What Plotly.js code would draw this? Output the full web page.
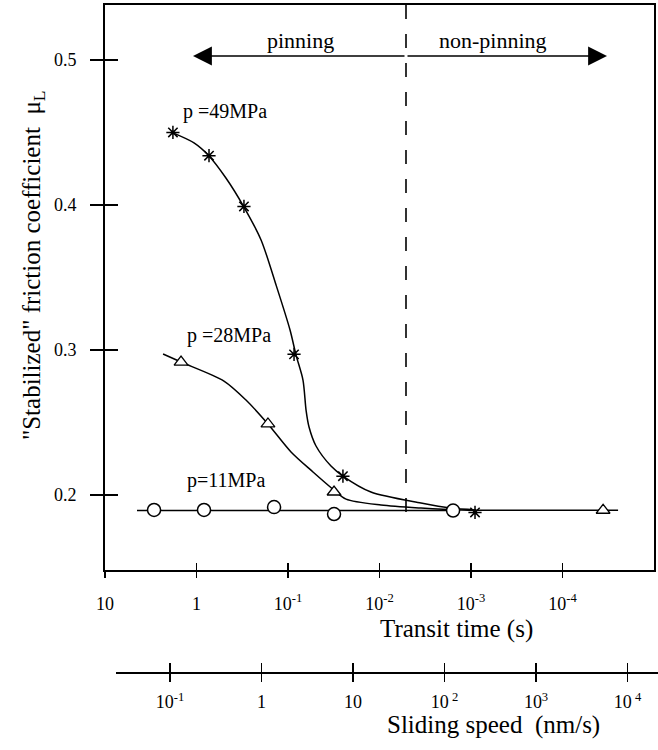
<!DOCTYPE html>
<html><head><meta charset="utf-8">
<script src="https://cdn.plot.ly/plotly-3.0.1.min.js"></script>
<style>html,body{margin:0;padding:0;background:#fff}</style>
</head><body><div id="chart" style="width:658px;height:750px"></div>
<script>
// ---- data ----
// p = 49 MPa : measured points (asterisks)
const t49 = [1.81, 0.73, 0.303, 0.0859, 0.0251, 0.000904];
const mu49 = [0.450, 0.434, 0.399, 0.297, 0.213, 0.188];
// p = 49 MPa : drawn guide curve
const t49Curve = [1.81, 1.065, 0.73, 0.477, 0.303, 0.197, 0.135, 0.095, 0.0818, 0.0686, 0.0635, 0.0589, 0.0494, 0.0339, 0.0251, 0.0124, 0.00352, 0.00166, 0.00088];
const mu49Curve = [0.4497, 0.4428, 0.4338, 0.4186, 0.3986, 0.3759, 0.3448, 0.3138, 0.2966, 0.2793, 0.2586, 0.2469, 0.2338, 0.2200, 0.2131, 0.2021, 0.1945, 0.1910, 0.1897];
// p = 28 MPa : measured points (triangles)
const t28 = [1.476, 0.1656, 0.0314, 0.000036];
const mu28 = [0.2917, 0.249, 0.2021, 0.1895];
// p = 28 MPa : drawn guide curve
const t28Curve = [2.32, 1.476, 0.501, 0.288, 0.1656, 0.0927, 0.0533, 0.0314, 0.0232, 0.00964, 0.00352, 0.00128, 0.000036, 0.0000247];
const mu28Curve = [0.2972, 0.2917, 0.2786, 0.2655, 0.2490, 0.2297, 0.2159, 0.2034, 0.1972, 0.1931, 0.1910, 0.1897, 0.1895, 0.1895];
// p = 11 MPa : measured points (circles)
const t11 = [2.91, 0.828, 0.142, 0.0314, 0.00157];
const mu11 = [0.1897, 0.1897, 0.1917, 0.1869, 0.1893];
// p = 11 MPa : drawn guide line
const t11Curve = [4.47, 0.00157];
const mu11Curve = [0.1893, 0.1893];

// axes ticks
const transitTicks = [10, 1, 0.1, 0.01, 0.001, 0.0001];
const transitTickText = ['10', '1', '10<sup>-1</sup>', '10<sup>-2</sup>', '10<sup>-3</sup>', '10<sup>-4</sup>'];
const speedTicks = [0.1, 1, 10, 100, 1000, 10000];
const speedTickText = ['10<sup>-1</sup>', '1', '10', '10<sup> 2</sup>', '10<sup>3</sup>', '10<sup> 4</sup>'];
const muTicks = [0.2, 0.3, 0.4, 0.5];
const muTickText = ['0.2', '0.3', '0.4', '0.5'];

// ---- drawing ----
const FONT = '"Liberation Serif", "Times New Roman", Times, serif';
const W = 658, H = 750;
const px = v => v / W;
const py = v => 1 - v / H;
const lineStyle = {color: '#000', width: 1.5, shape: 'spline', smoothing: 0.8};

const traces = [
  {x: t49Curve, y: mu49Curve, mode: 'lines', line: lineStyle, hoverinfo: 'skip'},
  {x: t28Curve, y: mu28Curve, mode: 'lines', line: lineStyle, hoverinfo: 'skip'},
  {x: t11Curve, y: mu11Curve, mode: 'lines', line: {color: '#000', width: 1.5}, hoverinfo: 'skip'},
  {x: t11, y: mu11, mode: 'markers', name: 'p=11MPa',
   marker: {symbol: 'circle', size: 13, color: '#fff', line: {color: '#000', width: 1.5}}},
  {x: t28, y: mu28, mode: 'markers', name: 'p=28MPa',
   marker: {symbol: 'triangle-up', size: 12, color: '#fff', line: {color: '#000', width: 1.3}}},
  {x: t49, y: mu49, mode: 'markers', name: 'p=49MPa',
   marker: {symbol: 'asterisk-open', size: 11, color: '#000', line: {color: '#000', width: 1.5}}},
  // helper traces so overlay / secondary axes get drawn
  {x: [1], y: [0.3], xaxis: 'x3', yaxis: 'y', mode: 'markers', marker: {opacity: 0}, hoverinfo: 'skip'},
  {x: [1], y: [0.3], xaxis: 'x', yaxis: 'y2', mode: 'markers', marker: {opacity: 0}, hoverinfo: 'skip'},
  {x: [1], y: [0.3], xaxis: 'x2', yaxis: 'y', mode: 'markers', marker: {opacity: 0}, hoverinfo: 'skip'},
  {x: [1], y: [0.3], xaxis: 'x4', yaxis: 'y', mode: 'markers', marker: {opacity: 0}, hoverinfo: 'skip'}
];

const xDomain = [px(105), px(654)];
const xRange = [1, -5];
const yDomain = [py(570), py(5)];
const yRange = [0.1483, 0.5379];
const speedPos = py(672);
const speedDomain = [px(116), 1];
const speedRange = [-1.59, 4.333];

const common = {showgrid: false, zeroline: false, automargin: false, tickcolor: '#000', tickwidth: 1.5};

const layout = {
  width: W, height: H,
  margin: {l: 0, r: 0, t: 0, b: 0},
  showlegend: false,
  paper_bgcolor: '#fff', plot_bgcolor: 'rgba(0,0,0,0)',
  font: {family: FONT, color: '#000', size: 18},
  xaxis: Object.assign({}, common, {
    type: 'log', domain: xDomain, range: xRange, autorange: false, anchor: 'y',
    tickvals: transitTicks, ticktext: transitTickText,
    ticks: 'outside', ticklen: 6, ticklabelstandoff: 10,
    showline: true, linewidth: 2, linecolor: '#000', mirror: true,
    tickfont: {size: 18, family: FONT, color: '#000'}
  }),
  xaxis3: Object.assign({}, common, {
    type: 'log', overlaying: 'x', anchor: 'y', range: xRange, autorange: false,
    tickvals: transitTicks, ticks: 'inside', ticklen: 7, showticklabels: false, showline: false
  }),
  yaxis: Object.assign({}, common, {
    domain: yDomain, range: yRange, autorange: false, anchor: 'x',
    tickvals: muTicks, ticktext: muTickText,
    ticks: 'outside', ticklen: 13, ticklabelstandoff: 10,
    showline: true, linewidth: 2, linecolor: '#000', mirror: true,
    tickfont: {size: 18, family: FONT, color: '#000'}
  }),
  yaxis2: Object.assign({}, common, {
    overlaying: 'y', anchor: 'x', range: yRange, autorange: false,
    tickvals: muTicks, ticks: 'inside', ticklen: 13, showticklabels: false, showline: false
  }),
  xaxis2: Object.assign({}, common, {
    type: 'log', domain: speedDomain, range: speedRange, autorange: false,
    anchor: 'free', position: speedPos,
    tickvals: speedTicks, ticktext: speedTickText,
    ticks: 'outside', ticklen: 8, ticklabelstandoff: 5,
    showline: true, linewidth: 1.5, linecolor: '#000',
    tickfont: {size: 18, family: FONT, color: '#000'}
  }),
  xaxis4: Object.assign({}, common, {
    type: 'log', overlaying: 'x2', anchor: 'free', position: speedPos,
    range: speedRange, autorange: false,
    tickvals: speedTicks, ticks: 'inside', ticklen: 9, showticklabels: false, showline: false
  }),
  shapes: [
    {type: 'line', xref: 'paper', yref: 'paper', x0: px(406), x1: px(406), y0: py(5), y1: py(520),
     line: {color: '#000', width: 1.6, dash: '14px,15px'}}
  ],
  annotations: [
    // axis titles
    {xref: 'paper', yref: 'paper', x: px(34), y: py(265), textangle: -90, showarrow: false,
     text: '"Stabilized" friction coefficient  \u03bc<sub>L</sub>', font: {size: 25, family: FONT},
     xanchor: 'center', yanchor: 'middle'},
    {xref: 'paper', yref: 'paper', x: px(456), y: py(629), showarrow: false,
     text: 'Transit time (s)', font: {size: 25, family: FONT}, xanchor: 'center', yanchor: 'middle'},
    {xref: 'paper', yref: 'paper', x: px(493), y: py(725), showarrow: false,
     text: 'Sliding speed  (nm/s)', font: {size: 25, family: FONT}, xanchor: 'center', yanchor: 'middle'},
    // series labels
    {xref: 'paper', yref: 'paper', x: px(225), y: py(112), showarrow: false,
     text: 'p =49MPa', font: {size: 20, family: FONT}, xanchor: 'center', yanchor: 'middle'},
    {xref: 'paper', yref: 'paper', x: px(229), y: py(335), showarrow: false,
     text: 'p =28MPa', font: {size: 20, family: FONT}, xanchor: 'center', yanchor: 'middle'},
    {xref: 'paper', yref: 'paper', x: px(226), y: py(480), showarrow: false,
     text: 'p=11MPa', font: {size: 20, family: FONT}, xanchor: 'center', yanchor: 'middle'},
    // regime labels
    {xref: 'paper', yref: 'paper', x: px(300), y: py(40), showarrow: false,
     text: 'pinning', font: {size: 22, family: FONT}, xanchor: 'center', yanchor: 'middle'},
    {xref: 'paper', yref: 'paper', x: px(493), y: py(40), showarrow: false,
     text: 'non-pinning', font: {size: 22, family: FONT}, xanchor: 'center', yanchor: 'middle'},
    // double arrow
    {xref: 'paper', yref: 'paper', x: px(193), y: py(56), ax: 213, ay: 0, text: '',
     showarrow: true, arrowhead: 2, arrowsize: 2.7, arrowwidth: 1.4, arrowcolor: '#000'},
    {xref: 'paper', yref: 'paper', x: px(607), y: py(56), ax: -201, ay: 0, text: '',
     showarrow: true, arrowhead: 2, arrowsize: 2.7, arrowwidth: 1.4, arrowcolor: '#000'}
  ]
};

Plotly.newPlot('chart', traces, layout, {staticPlot: true, displayModeBar: false});
</script>
</body></html>
